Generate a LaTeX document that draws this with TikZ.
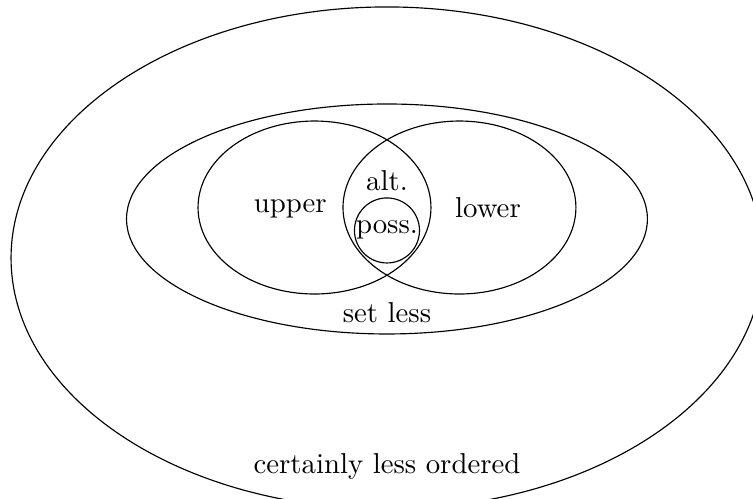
\documentclass[tikz,border=0pt]{standalone}
\usepackage{tikz}

\begin{document}
\begin{tikzpicture}
  \useasboundingbox (-4.725,-3.407) rectangle (4.469,2.674);
  \draw (0,-.476) ellipse (4.59 and 3.065);
  \draw (0,0) ellipse (3.18 and 1.404);
    \draw (-.885,.14) ellipse (1.422 and 1.056);
    \draw (.885,.14) ellipse (1.422 and 1.056);
    \draw (0,-.14) circle (.397);
    %\draw (0,-.14) circle (.5);
    \draw (-1.18,.128) node (upper) {upper};
    \draw (1.233,.134) node (lower) {lower};
    \draw (0,.464) node (alt) {alt.};
    \draw (0,-.134) node (poss) {poss.};
    \draw (0,-1.148) node (setless) {set less};
    \draw (0,-3.016) node (certless) {certainly less ordered};
  \end{tikzpicture}
\end{document}
